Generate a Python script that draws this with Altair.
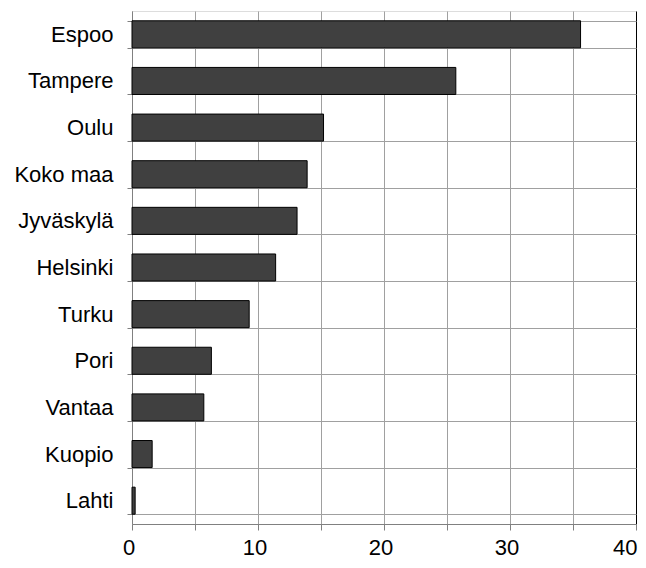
import altair as alt
import pandas as pd

cities = ["Espoo", "Tampere", "Oulu", "Koko maa", "Jyväskylä", "Helsinki",
          "Turku", "Pori", "Vantaa", "Kuopio", "Lahti"]
values = [35.6, 25.7, 15.2, 13.9, 13.1, 11.4, 9.3, 6.3, 5.7, 1.6, 0.25]
x_ticks = [0, 5, 10, 15, 20, 25, 30, 35, 40]

df = pd.DataFrame({"city": cities, "value": values})

font = "Liberation Sans"

chart = alt.Chart(df).mark_bar(color="#404040", stroke="#000000", strokeWidth=1).encode(
    x=alt.X("value:Q",
            scale=alt.Scale(domain=[0, 40], nice=False),
            axis=alt.Axis(title=None, values=x_ticks,
                          labelExpr="datum.value % 10 == 0 ? datum.label : ''",
                          grid=True,
                          gridColor={"expr": "datum.value == 40 ? '#000000' : '#a0a0a0'"},
                          gridOpacity=1,
                          domainColor="#808080", tickColor="#808080",
                          tickSize=6, labelPadding=7, labelFontSize=22,
                          labelAlign={"expr": "datum.value == 40 ? 'right' : 'center'"},
                          labelOffset={"expr": "datum.value == 40 ? 1 : -3.5"},
                          labelFont=font, labelColor="#000000", labelFlush=False)),
    y=alt.Y("city:N", sort=cities,
            scale=alt.Scale(paddingInner=0.42, paddingOuter=0.21),
            axis=alt.Axis(title=None, tickBand="extent", grid=True,
                          gridColor="#a0a0a0",
                          gridOpacity=1, domainColor="#808080", tickColor="#808080",
                          tickSize=5, labelPadding=14, labelFontSize=22, labelFont=font,
                          labelColor="#000000")),
).properties(
    width=504, height=513,
    autosize=alt.AutoSizeParams(type="none"),
    padding={"left": 124, "top": 3, "right": 2, "bottom": 34},
).configure_view(stroke="#000000", strokeWidth=1).configure(background="#ffffff")

chart.save("out.html", embed_options={"renderer": "svg", "actions": False})
